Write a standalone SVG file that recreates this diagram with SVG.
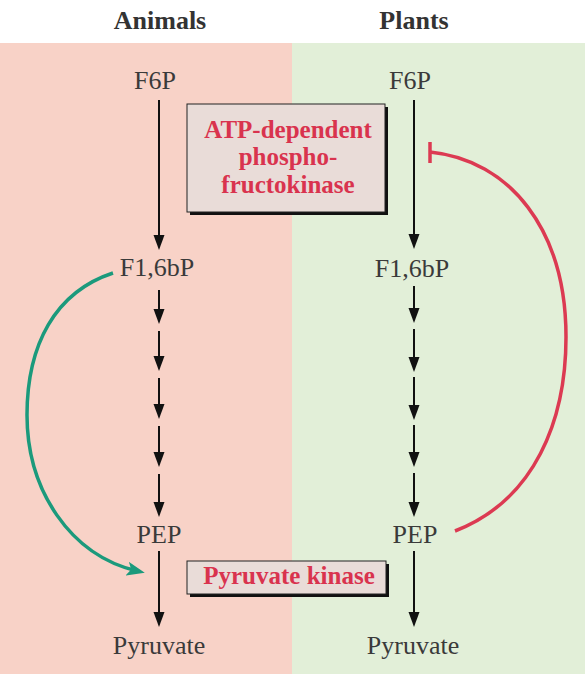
<svg xmlns="http://www.w3.org/2000/svg" width="585" height="674" viewBox="0 0 585 674">
<style>
.hdr{font-family:"Liberation Serif",serif;font-weight:bold;font-size:26px;fill:#333;text-anchor:middle}
.lbl{font-family:"Liberation Serif",serif;font-size:26px;fill:#3a3a3a;text-anchor:middle}
.enz{font-family:"Liberation Serif",serif;font-weight:bold;font-size:25px;fill:#d9334e;text-anchor:middle}
.box{fill:#e9dcd8;stroke:#222;stroke-width:1}
.shadow{fill:#111}
.arr{stroke:#111;stroke-width:2;fill:none;marker-end:url(#ah)}
</style>
<defs>
<marker id="ah" markerUnits="userSpaceOnUse" markerWidth="16" markerHeight="12" refX="11" refY="6" orient="auto">
<path d="M0,0.5 L15,6 L0,11.5 z" fill="#111"/>
</marker>
<marker id="gh" markerUnits="userSpaceOnUse" markerWidth="20" markerHeight="14" refX="10" refY="7" orient="auto">
<path d="M0,0 L18,7 L0,14 L4,7 z" fill="#1b9a7c"/>
</marker>
</defs>
<rect x="0" y="0" width="585" height="43" fill="#ffffff"/>
<rect x="0" y="43" width="292" height="631" fill="#f8d2c7"/>
<rect x="292" y="43" width="293" height="631" fill="#e2efd8"/>
<text class="hdr" x="160" y="29">Animals</text>
<text class="hdr" x="414" y="29">Plants</text>
<g id="connectors">
<line class="arr" x1="159" y1="100" x2="159" y2="246"/>
<line class="arr" x1="159" y1="290" x2="159" y2="320"/>
<line class="arr" x1="159" y1="331" x2="159" y2="367"/>
<line class="arr" x1="159" y1="378" x2="159" y2="415"/>
<line class="arr" x1="159" y1="426" x2="159" y2="463"/>
<line class="arr" x1="159" y1="474" x2="159" y2="513"/>
<line class="arr" x1="159" y1="551" x2="159" y2="623"/>
<line class="arr" x1="414" y1="100" x2="414" y2="245"/>
<line class="arr" x1="414" y1="286" x2="414" y2="319"/>
<line class="arr" x1="414" y1="329" x2="414" y2="368"/>
<line class="arr" x1="414" y1="377" x2="414" y2="416"/>
<line class="arr" x1="414" y1="425" x2="414" y2="463"/>
<line class="arr" x1="414" y1="473" x2="414" y2="513"/>
<line class="arr" x1="414" y1="551" x2="414" y2="623"/>
<path d="M113,273 C 55,292 27,345 27,415 C 27,490 70,555 137,571" fill="none" stroke="#1b9a7c" stroke-width="3.5" marker-end="url(#gh)"/>
<path d="M455,531 C 535,500 566,420 566,337 C 566,230 510,160 430,152" fill="none" stroke="#dc3a52" stroke-width="3.5"/>
<line x1="430" y1="142" x2="430" y2="163" stroke="#dc3a52" stroke-width="3.5"/>
</g>
<g id="pfk">
<rect class="shadow" x="190" y="107" width="198" height="108"/>
<rect class="box" x="187" y="104" width="198" height="108"/>
<text class="enz" x="288" y="138">ATP-dependent</text>
<text class="enz" x="288" y="165">phospho-</text>
<text class="enz" x="288" y="193">fructokinase</text>
</g>
<g id="pk">
<rect class="shadow" x="190" y="564" width="199" height="33"/>
<rect class="box" x="187" y="561" width="199" height="33"/>
<text class="enz" x="289" y="584">Pyruvate kinase</text>
</g>
<g id="a-f6p"><text class="lbl" x="155" y="89">F6P</text></g>
<g id="a-f16bp"><text class="lbl" x="157" y="276">F1,6bP</text></g>
<g id="a-pep"><text class="lbl" x="159" y="543">PEP</text></g>
<g id="a-pyr"><text class="lbl" x="159" y="654">Pyruvate</text></g>
<g id="p-f6p"><text class="lbl" x="410" y="89">F6P</text></g>
<g id="p-f16bp"><text class="lbl" x="412" y="277">F1,6bP</text></g>
<g id="p-pep"><text class="lbl" x="415" y="543">PEP</text></g>
<g id="p-pyr"><text class="lbl" x="413" y="654">Pyruvate</text></g>
</svg>
